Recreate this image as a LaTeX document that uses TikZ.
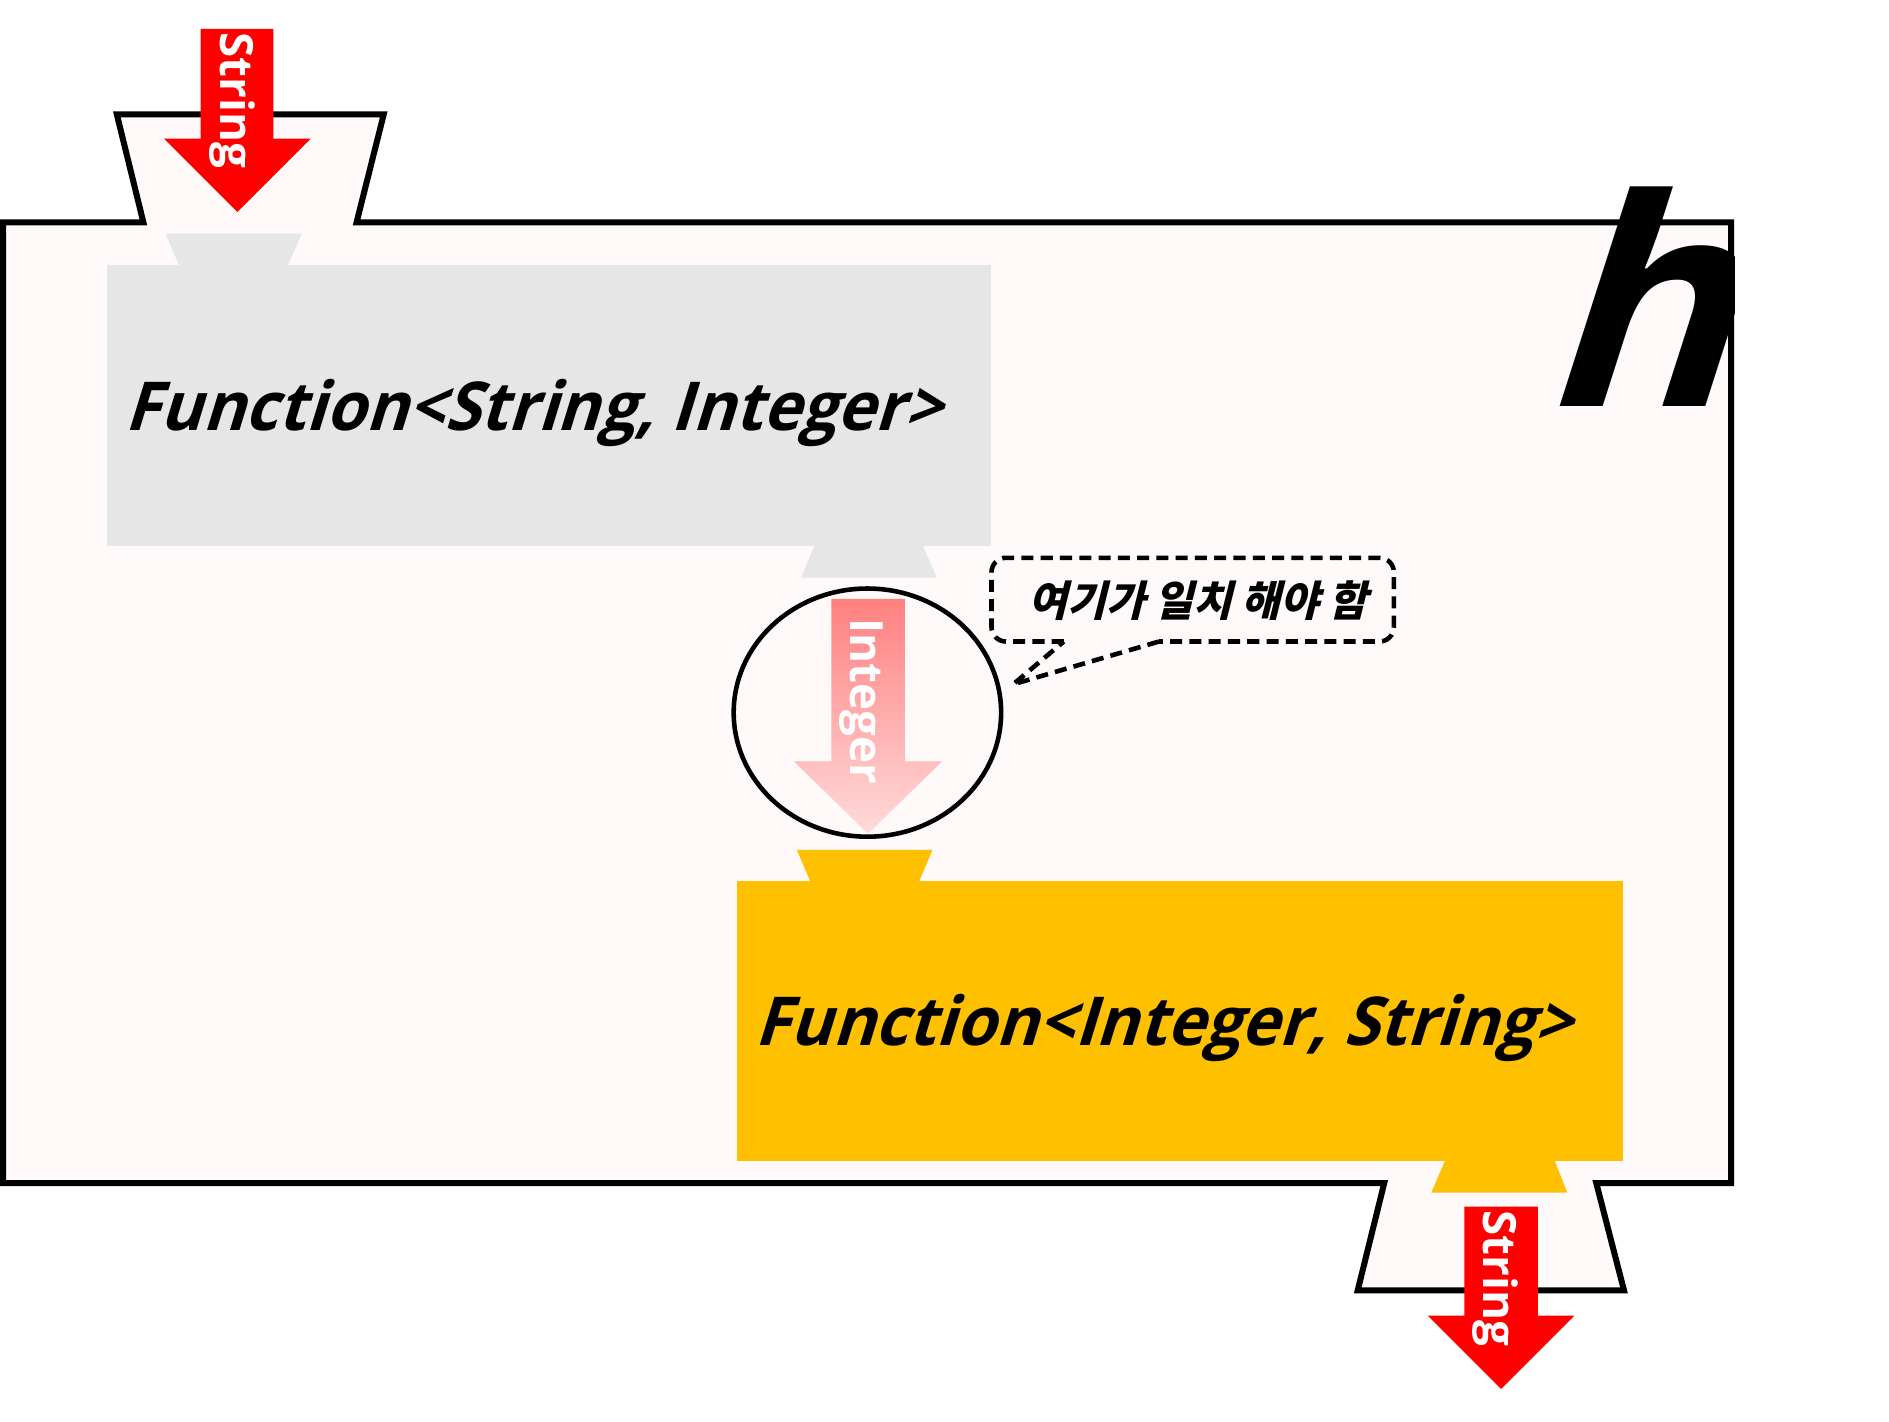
\documentclass[tikz,border=0pt]{standalone}
\usepackage{fontspec}
\setmainfont{Open Sans}
\newfontfamily\slbf{Open Sans}[FakeSlant=0.32]
\newfontfamily\cjk{Noto Sans CJK KR}[FakeSlant=0.25]
\definecolor{boxpink}{RGB}{255,249,249}
\definecolor{funcgray}{RGB}{230,230,230}
\definecolor{funcgold}{RGB}{255,192,0}
\definecolor{arrowred}{RGB}{255,0,0}
\definecolor{gradtop}{RGB}{255,128,128}
\definecolor{gradbot}{RGB}{255,218,218}
\begin{document}
\begin{tikzpicture}[x=0.5pt,y=-0.5pt,
  frame/.style={line width=2.5pt, draw=black, fill=boxpink, line join=miter},
  functext/.style={anchor=base west, inner sep=0pt, xscale=0.955, font=\slbf\bfseries\fontsize{28}{28}\selectfont},
  flowlabel/.style={rotate=-90, text=white, inner sep=0pt, font=\bfseries\fontsize{19}{19}\selectfont},
  calloutline/.style={draw=black, line width=1.9pt, dash pattern=on 5pt off 3pt},
  calloutext/.style={inner sep=0pt, font=\cjk\bfseries\fontsize{17.5}{17.5}\selectfont}
]
\useasboundingbox (0,0) rectangle (1568,1180);

% outer frame with notches
\draw[frame] (2.5,184.5) -- (119,184.5) -- (97,95) -- (318.5,95) -- (296,184.5)
  -- (1437,184.5) -- (1437,982) -- (1325,982) -- (1348,1071) -- (1127,1071)
  -- (1149,982) -- (2.5,982) -- cycle;

% gray function box
\fill[funcgray] (89,220) rectangle (823,453.5);
\fill[funcgray] (137.5,194) -- (250.5,194) -- (239,220) -- (148.5,220) -- cycle;
\fill[funcgray] (676,453) -- (766,453) -- (777.5,479.5) -- (665,479.5) -- cycle;

% gold function box
\fill[funcgold] (612,731) rectangle (1347,964);
\fill[funcgold] (661.5,705.5) -- (774,705.5) -- (763,731.5) -- (672.5,731.5) -- cycle;
\fill[funcgold] (1199.5,963.5) -- (1290.5,963.5) -- (1301,990) -- (1188,990) -- cycle;

% ellipse
\draw[line width=1.9pt] (720,591.5) ellipse [x radius=55.5pt, y radius=51.5pt];

% arrows
\fill[arrowred] (166.5,24) -- (227,24) -- (227,115) -- (258,115) -- (197,176)
  -- (136,115) -- (166.5,115) -- cycle;
\shade[top color=gradtop, bottom color=gradbot] (690,497) -- (751,497) -- (751,632)
  -- (782,632) -- (720.5,692) -- (659,632) -- (690,632) -- cycle;
\fill[arrowred] (1215.5,1001.5) -- (1276.5,1001.5) -- (1276.5,1092) -- (1307,1092)
  -- (1246,1153) -- (1185,1092) -- (1215.5,1092) -- cycle;

\node[flowlabel] (instring) at (192.5,83.5) {String};
\node[flowlabel] (midint) at (715,582) {Integer};
\node[flowlabel] (outstring) at (1241,1061) {String};

% function texts
\node[functext] (f1) at (103,357.5) {Function<String, Integer>};
\node[functext] (f2) at (626,868) {Function<Integer, String>};

% callout
\draw[calloutline, rounded corners=6pt] (883,532.5) -- (823,532.5) -- (823,463)
  -- (1157,463) -- (1157,532.5) -- (962,532.5);
\draw[calloutline] (962,532.5) -- (841,568) -- (883,532.5);
\node[calloutext] (note) at (994.5,498.5) {여기가 일치 해야 함};

% big h
\begin{scope}
\clip (0,0) rectangle (1440,1180);
\node[anchor=base west, inner sep=0pt, font=\slbf\bfseries\fontsize{120}{120}\selectfont] (hname) at (1276,337) {h};
\end{scope}
\end{tikzpicture}
\end{document}
